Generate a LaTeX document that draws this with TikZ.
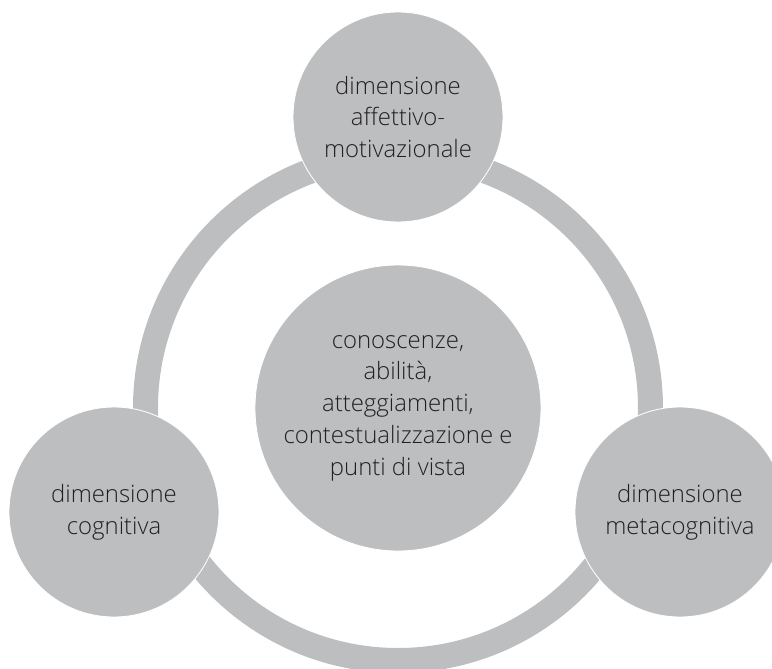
\documentclass[tikz,border=0pt]{standalone}
\usepackage{fontspec}
\setmainfont{Open Sans Light}
\definecolor{ringgray}{HTML}{BCBEC0}
\definecolor{textgray}{HTML}{231F20}
\begin{document}
\begin{tikzpicture}[
    dimension/.style={circle, fill=ringgray, draw=white, line width=0.6pt,
        minimum size=5.25cm, inner sep=0pt, align=center, text=textgray,
        font=\fontsize{17}{22.6}\selectfont}
]
    % frame of the picture
    \useasboundingbox (-9.95,-6.5) rectangle (9.35,10.2);

    % ring behind the dimensions
    \coordinate (hub) at (0,0);
    \draw[ringgray, line width=0.625cm] (hub) circle (6.3125);

    % core
    \node[dimension, minimum size=7.15cm] (core) at (hub) {conoscenze,\\abilità,\\atteggiamenti,\\contestualizzazione e\\punti di vista};

    % the three dimensions
    \node[dimension] (affettiva) at (0,7.275) {dimensione\\affettivo-\\motivazionale};
    \node[dimension] (cognitiva) at (-7.1,-2.6) {dimensione\\cognitiva};
    \node[dimension] (metacognitiva) at (7.05,-2.6) {dimensione\\metacognitiva};
\end{tikzpicture}
\end{document}
